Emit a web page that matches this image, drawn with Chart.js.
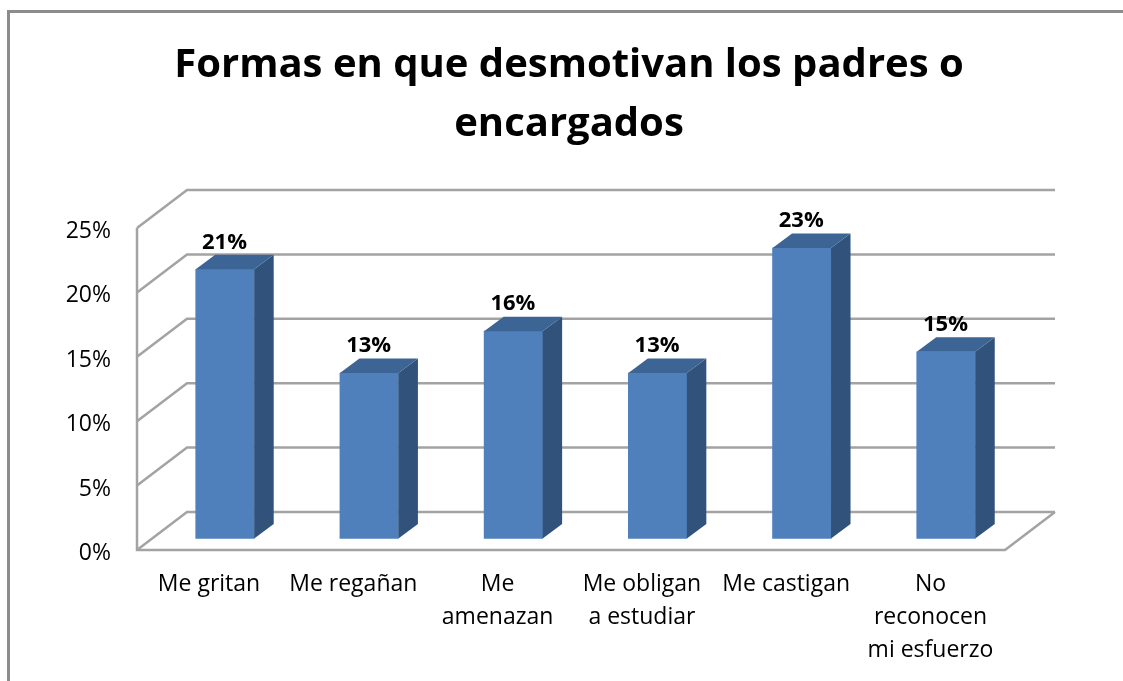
<!DOCTYPE html>
<html>
<head>
<meta charset="utf-8">
<script src="https://cdn.jsdelivr.net/npm/chart.js@4/dist/chart.umd.min.js"></script>
<style>
    body { margin: 0; background: #fff; overflow: hidden; }
    #frame { position: absolute; left: 7px; top: 10px; right: -10px; bottom: -10px; border: 3px solid #8c8c8c; }
    #myChart { position: absolute; left: 0; top: 0; }
</style>
</head>
<body>
<div id="frame"></div>
<canvas id="myChart" width="1123" height="681"></canvas>
<script>
// Chart data
const titleLines = ['Formas en que desmotivan los padres o', 'encargados'];
const categories = ['Me gritan', 'Me regañan', ['Me', 'amenazan'], ['Me obligan', 'a estudiar'], 'Me castigan', ['No', 'reconocen', 'mi esfuerzo']];
const values = [20.9, 12.85, 16.1, 12.85, 22.55, 14.5];
const yTicks = [0, 5, 10, 15, 20, 25];

const FONT = "'Open Sans', sans-serif";
const GRID_COLOR = '#a3a3a3';
// depth of the fake 3D box
const WALL_DX = 50;
const WALL_DY = -38;
const BAR_DX = 19.5;
const BAR_DY = -14.5;

// Back wall, left wall and floor lines, taken from the tick axis
const wallPlugin = {
    id: 'walls',
    beforeDatasetsDraw(chart) {
        const { ctx, chartArea } = chart;
        const yScale = chart.scales.yFront;
        const left = chartArea.left;
        const right = chartArea.right - WALL_DX;
        ctx.save();
        ctx.strokeStyle = GRID_COLOR;
        ctx.lineWidth = 2.5;
        yTicks.forEach(t => {
            const y = yScale.getPixelForValue(t);
            ctx.beginPath();
            ctx.moveTo(left, y);
            ctx.lineTo(left + WALL_DX, y + WALL_DY);
            ctx.lineTo(right + WALL_DX, y + WALL_DY);
            ctx.stroke();
        });
        const y0 = yScale.getPixelForValue(0);
        ctx.beginPath();
        ctx.moveTo(left, yScale.getPixelForValue(yTicks[yTicks.length - 1]));
        ctx.lineTo(left, y0);
        ctx.lineTo(right, y0);
        ctx.lineTo(right + WALL_DX, y0 + WALL_DY);
        ctx.stroke();
        ctx.restore();
    }
};

// Side and top faces of each bar, plus the value labels
const barPlugin = {
    id: 'barFaces',
    afterDatasetsDraw(chart) {
        const { ctx } = chart;
        ctx.save();
        chart.getDatasetMeta(0).data.forEach((bar, i) => {
            const l = bar.x - bar.width / 2;
            const r = bar.x + bar.width / 2;
            ctx.fillStyle = '#31527a';
            ctx.beginPath();
            ctx.moveTo(r, bar.y);
            ctx.lineTo(r + BAR_DX, bar.y + BAR_DY);
            ctx.lineTo(r + BAR_DX, bar.base + BAR_DY);
            ctx.lineTo(r, bar.base);
            ctx.closePath();
            ctx.fill();
            ctx.fillStyle = '#3c6595';
            ctx.beginPath();
            ctx.moveTo(l, bar.y);
            ctx.lineTo(l + BAR_DX, bar.y + BAR_DY);
            ctx.lineTo(r + BAR_DX, bar.y + BAR_DY);
            ctx.lineTo(r, bar.y);
            ctx.closePath();
            ctx.fill();
            ctx.fillStyle = '#000';
            ctx.font = 'bold 22px ' + FONT;
            ctx.textAlign = 'center';
            ctx.textBaseline = 'middle';
            ctx.fillText(Math.round(values[i]) + '%', bar.x - 0.5, bar.y - 27);
        });
        ctx.restore();
    }
};

const ctx = document.getElementById('myChart').getContext('2d');
const myChart = new Chart(ctx, {
    type: 'bar',
    data: {
        datasets: [{
            data: values.map((v, i) => ({ x: i, y: v })),
            backgroundColor: '#4f80bc',
            borderWidth: 0,
            barThickness: 58.5,
            xAxisID: 'xBars',
            yAxisID: 'y'
        }]
    },
    options: {
        responsive: false,
        animation: false,
        layout: { padding: { left: 15, right: 0, top: 0, bottom: 0 } },
        plugins: {
            legend: { display: false },
            tooltip: { enabled: false },
            title: {
                display: true,
                text: titleLines,
                color: '#000',
                font: { family: FONT, size: 40, weight: 'bold', lineHeight: 1.48 },
                padding: { top: 36, bottom: 35.6 }
            }
        },
        scales: {
            // labels sit a little left of the bars, so each has its own x axis
            x: {
                type: 'linear',
                position: 'bottom',
                offset: false,
                min: -0.499,
                max: 5.863,
                grid: { display: false, drawTicks: false },
                border: { display: false },
                afterBuildTicks(scale) {
                    scale.ticks = categories.map((c, i) => ({ value: i }));
                },
                afterFit(scale) {
                    scale.height = 131;
                },
                ticks: {
                    autoSkip: false,
                    maxRotation: 0,
                    padding: 18,
                    color: '#000',
                    font: { family: FONT, size: 23, lineHeight: 1.44 },
                    callback: value => categories[value]
                }
            },
            xBars: {
                type: 'linear',
                position: 'top',
                display: false,
                offset: false,
                min: -0.61,
                max: 5.756
            },
            yFront: {
                position: 'left',
                min: 0,
                max: 27.95,
                grid: { display: false, drawTicks: false },
                border: { display: false },
                afterBuildTicks(scale) {
                    scale.ticks = yTicks.map(t => ({ value: t }));
                },
                afterFit(scale) {
                    scale.width = 122;
                },
                ticks: {
                    padding: 26,
                    labelOffset: 3.5,
                    color: '#000',
                    font: { family: FONT, size: 23 },
                    callback: value => value + '%'
                }
            },
            y: {
                position: 'left',
                display: false,
                min: -0.89,
                max: 27.06
            },
            // empty axis that only reserves the right margin, so the title stays centred on the page
            rightGap: {
                position: 'right',
                min: 0,
                max: 1,
                grid: { display: false, drawTicks: false },
                border: { display: false },
                ticks: { display: false },
                afterFit(scale) {
                    scale.width = 68;
                }
            }
        }
    },
    plugins: [wallPlugin, barPlugin]
});
</script>
</body>
</html>
